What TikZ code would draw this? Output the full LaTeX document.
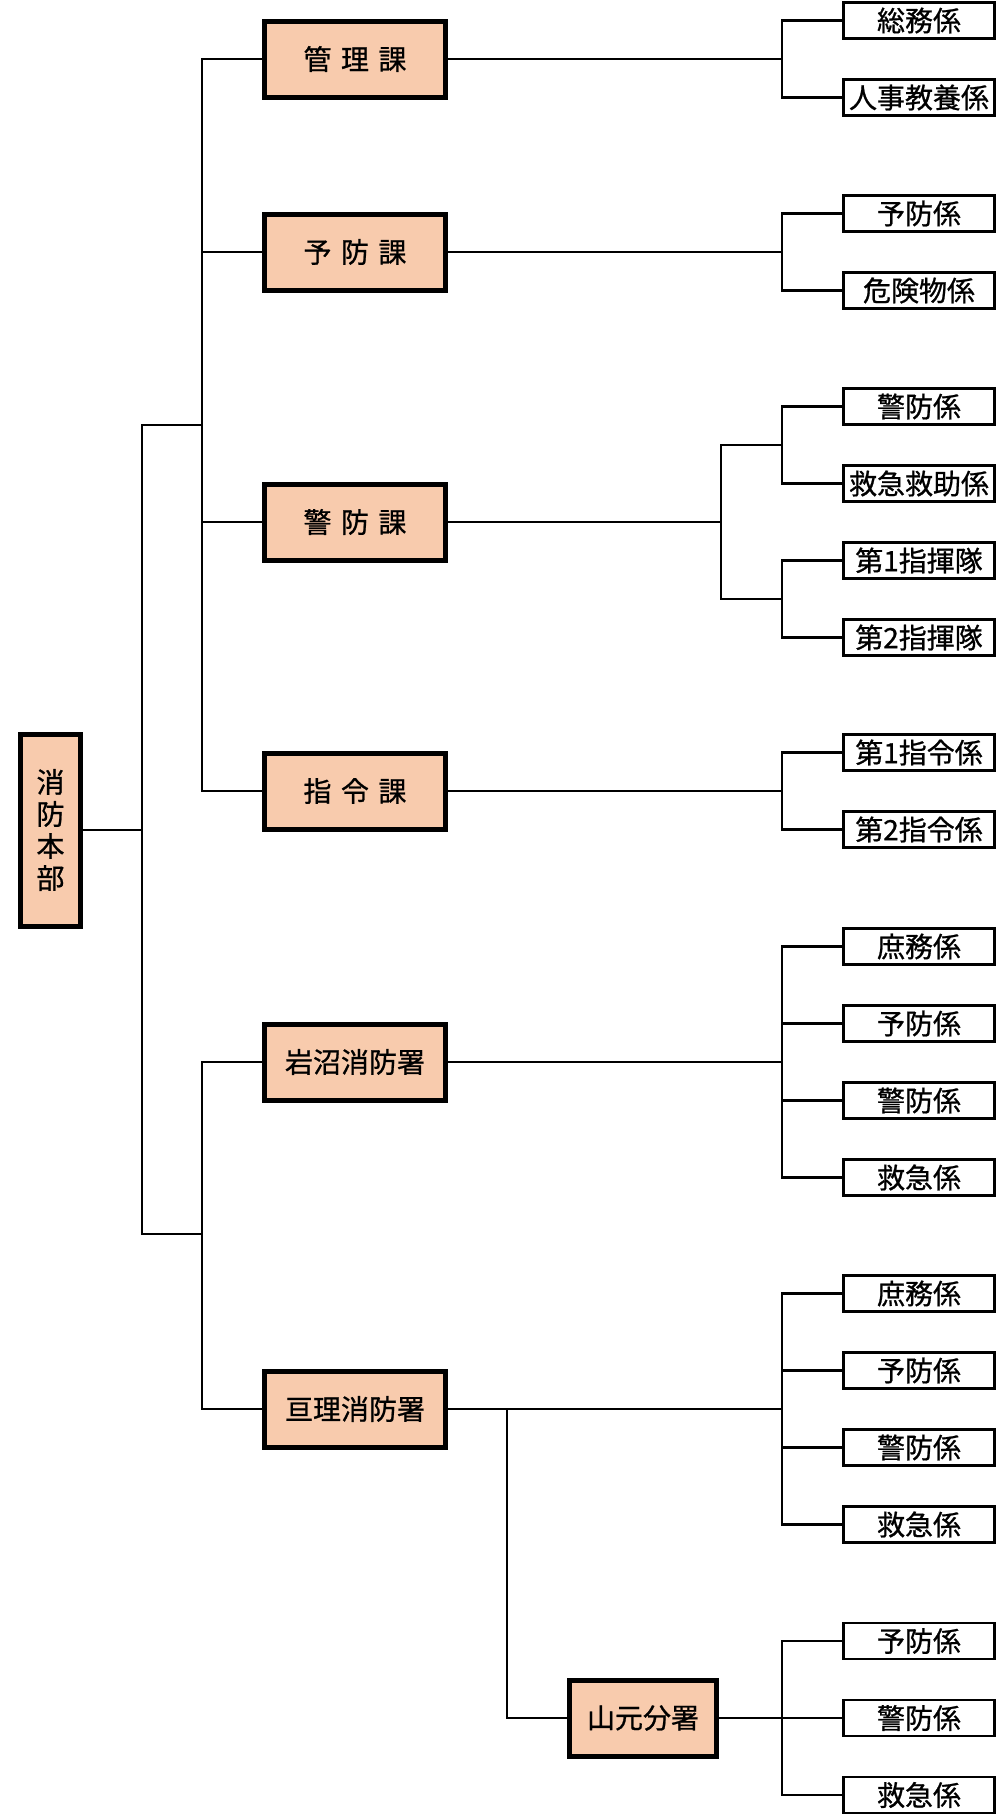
\documentclass[tikz,border=0pt]{standalone}
\usepackage{fontspec}
\setmainfont{Noto Sans CJK JP}[AutoFakeBold=0.8]
\definecolor{kafill}{HTML}{F8CBAD}
\newcommand{\ksp}{\hspace{0.34em}}

\begin{document}
\begin{tikzpicture}[x=1pt,y=-1pt,line width=2.4pt,
		bu/.style={draw=black,fill=kafill,line width=5pt,minimum width=181pt,minimum height=76pt,inner sep=0pt,font=\fontsize{28}{32}\selectfont\bfseries},
		honbu/.style={bu,minimum width=60pt,minimum height=192pt,align=center},
		kakari/.style={draw=black,line width=2.7pt,minimum width=151pt,minimum height=36pt,inner sep=0pt,font=\fontsize{28}{32}\selectfont\bfseries},
		elbow/.style={to path={-| (\tikztotarget)}}]
	\useasboundingbox (0,0) rectangle (1000,1815);
	% junctions
	\coordinate (hbj) at (142,830);
	\coordinate (kaj) at (202,425);
	\coordinate (shoj) at (202,1234);
	\coordinate (kanrij) at (782,59);
	\coordinate (yobouj) at (782,252);
	\coordinate (keibouj) at (721,522);
	\coordinate (keibouj1) at (782,445);
	\coordinate (keibouj2) at (782,599);
	\coordinate (shireij) at (782,791);
	\coordinate (iwanumaj) at (782,1062);
	\coordinate (watarij) at (782,1409);
	\coordinate (yamamotoj) at (507,1409);
	\coordinate (yamamotoj2) at (782,1718);
	% honbu
	\node[honbu] (honbu) at (50.5,830) {消\\防\\本\\部}
		edge (hbj);
	\draw (kaj) -| (hbj) |- (shoj);
	% ka
	\node[bu] (kanri) at (355,59) {管\ksp{}理\ksp{}課}
		edge[elbow] (kaj)
		edge (kanrij);
	\node[bu] (yobou) at (355,252) {予\ksp{}防\ksp{}課}
		edge[elbow] (kaj)
		edge (yobouj);
	\node[bu] (keibou) at (355,522) {警\ksp{}防\ksp{}課}
		edge[elbow] (kaj)
		edge (keibouj);
	\draw (keibouj1) -| (keibouj) |- (keibouj2);
	\node[bu] (shirei) at (355,791) {指\ksp{}令\ksp{}課}
		edge[elbow] (kaj)
		edge (shireij);
	% sho
	\node[bu] (iwanuma) at (355,1062) {岩沼消防署}
		edge[elbow] (shoj)
		edge (iwanumaj);
	\node[bu] (watari) at (355,1409) {亘理消防署}
		edge[elbow] (shoj)
		edge (watarij);
	\node[bu,minimum width=147pt] (yamamoto) at (643,1718) {山元分署}
		edge[elbow] (yamamotoj)
		edge (yamamotoj2);
	% kakari
	\node[kakari] (k11) at (919,20.5) {総務係} edge[elbow] (kanrij);
	\node[kakari] (k12) at (919,97.5) {人事教養係} edge[elbow] (kanrij);
	\node[kakari] (k21) at (919,213.5) {予防係} edge[elbow] (yobouj);
	\node[kakari] (k22) at (919,290.5) {危険物係} edge[elbow] (yobouj);
	\node[kakari] (k31) at (919,406.5) {警防係} edge[elbow] (keibouj1);
	\node[kakari] (k32) at (919,483.5) {救急救助係} edge[elbow] (keibouj1);
	\node[kakari] (k33) at (919,560.5) {第1指揮隊} edge[elbow] (keibouj2);
	\node[kakari] (k34) at (919,637.5) {第2指揮隊} edge[elbow] (keibouj2);
	\node[kakari] (k41) at (919,752.5) {第1指令係} edge[elbow] (shireij);
	\node[kakari] (k42) at (919,829.5) {第2指令係} edge[elbow] (shireij);
	\node[kakari] (k51) at (919,946.5) {庶務係} edge[elbow] (iwanumaj);
	\node[kakari] (k52) at (919,1023.5) {予防係} edge[elbow] (iwanumaj);
	\node[kakari] (k53) at (919,1100.5) {警防係} edge[elbow] (iwanumaj);
	\node[kakari] (k54) at (919,1177.5) {救急係} edge[elbow] (iwanumaj);
	\node[kakari] (k61) at (919,1293.5) {庶務係} edge[elbow] (watarij);
	\node[kakari] (k62) at (919,1370.5) {予防係} edge[elbow] (watarij);
	\node[kakari] (k63) at (919,1447.5) {警防係} edge[elbow] (watarij);
	\node[kakari] (k64) at (919,1524.5) {救急係} edge[elbow] (watarij);
	\node[kakari] (k71) at (919,1641) {予防係} edge[elbow] (yamamotoj2);
	\node[kakari] (k72) at (919,1718) {警防係} edge[elbow] (yamamotoj2);
	\node[kakari] (k73) at (919,1795) {救急係} edge[elbow] (yamamotoj2);
\end{tikzpicture}
\end{document}
